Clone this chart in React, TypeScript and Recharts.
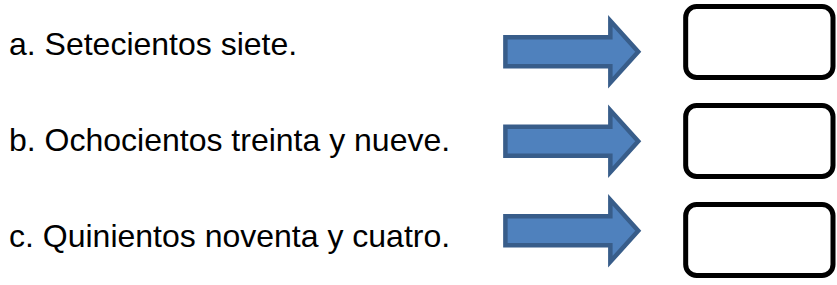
import React from 'react';
import { BarChart, Bar, XAxis, YAxis } from 'recharts';

// Worksheet rows: text prompt, arrow, empty answer box
const filas = ['a. Setecientos siete.', 'b. Ochocientos treinta y nueve.', 'c. Quinientos noventa y cuatro.'];
const flechaInicio = [505, 505, 505];
const flechaFin = [638, 638, 638];
const cajaInicio = [685.5, 685.5, 685.5];
const cajaFin = [833, 833, 833];

const data = filas.map((fila, i) => ({
  fila,
  flecha: [flechaInicio[i], flechaFin[i]],
  caja: [cajaInicio[i], cajaFin[i]],
}));

function ArrowShape(props: any) {
  const { x, y, width, height } = props;
  const headX = x + width * 0.79;
  const shaftInset = (height - 29) / 2;
  const points = [
    [x, y + shaftInset],
    [headX, y + shaftInset],
    [headX, y],
    [x + width, y + height / 2],
    [headX, y + height],
    [headX, y + height - shaftInset],
    [x, y + height - shaftInset],
  ]
    .map((p) => p.join(','))
    .join(' ');
  return <polygon points={points} fill="#4f81bd" stroke="#385d8a" strokeWidth={4.5} strokeLinejoin="miter" />;
}

function BoxShape(props: any) {
  const { x, y, width, height } = props;
  return <rect x={x} y={y} width={width} height={height} rx={11} ry={11} fill="#fff" stroke="#000" strokeWidth={5} />;
}

function RowTick(props: any) {
  const { y, payload } = props;
  return (
    <text x={9} y={y} dy="0.355em" fontSize={32} fontFamily="'Liberation Sans', Arial, sans-serif" fill="#000">
      {payload.value}
    </text>
  );
}

export default function App() {
  return (
    <div style={{ position: 'absolute', left: 0, top: -10 }}>
      <BarChart
        width={837}
        height={305}
        data={data}
        layout="vertical"
        margin={{ top: 0, right: 0, bottom: 0, left: 0 }}
      >
        <XAxis type="number" domain={[0, 837]} hide allowDataOverflow />
        <YAxis
          yAxisId="texto"
          type="category"
          dataKey="fila"
          width={1}
          axisLine={false}
          tickLine={false}
          interval={0}
          tick={<RowTick />}
          padding={{ top: 5, bottom: 11 }}
        />
        <YAxis yAxisId="flechas" type="category" dataKey="fila" hide padding={{ top: 16.75, bottom: 19.75 }} />
        <YAxis yAxisId="cajas" type="category" dataKey="fila" hide padding={{ top: 2.5, bottom: 5.5 }} />
        <Bar yAxisId="texto" dataKey="flecha" barSize={1} fill="transparent" isAnimationActive={false} />
        <Bar yAxisId="flechas" dataKey="flecha" barSize={62} shape={<ArrowShape />} isAnimationActive={false} />
        <Bar yAxisId="cajas" dataKey="caja" barSize={71} shape={<BoxShape />} isAnimationActive={false} />
      </BarChart>
    </div>
  );
}
